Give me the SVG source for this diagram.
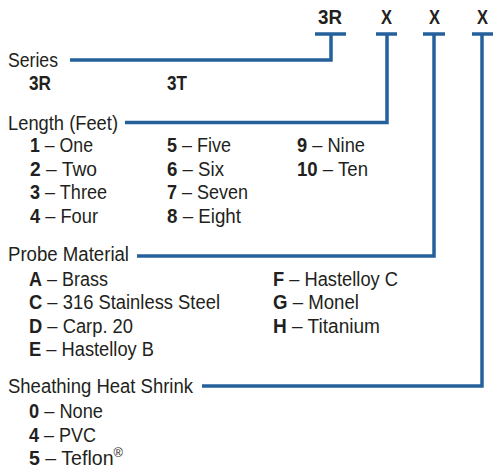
<svg xmlns="http://www.w3.org/2000/svg" width="493" height="471" viewBox="0 0 493 471">
<style>
text{font-family:"Liberation Sans",Arial,sans-serif;font-size:20px;fill:#231f20}
.b{font-weight:bold}
.c{fill:none;stroke:#24609a;stroke-width:3.5;stroke-linecap:butt;stroke-linejoin:miter}
</style>
<rect width="493" height="471" fill="#fff"/>
<g id="connectors">
<path class="c" d="M315 34H346M331 34V60H70"/>
<path class="c" d="M376 34H397M387 34V122.5H125"/>
<path class="c" d="M423 34H445M434 34V256H137"/>
<path class="c" d="M472 34H493M482 34V386H202"/>
</g>
<g id="header">
<text class="b" x="318" y="24" textLength="24" lengthAdjust="spacingAndGlyphs">3R</text>
<text class="b" x="381" y="24" textLength="11" lengthAdjust="spacingAndGlyphs">X</text>
<text class="b" x="429" y="24" textLength="11" lengthAdjust="spacingAndGlyphs">X</text>
<text class="b" x="477" y="24" textLength="11" lengthAdjust="spacingAndGlyphs">X</text>
</g>
<g id="series">
<text x="8" y="67" textLength="50" lengthAdjust="spacingAndGlyphs">Series</text>
<text class="b" x="29" y="90" textLength="22" lengthAdjust="spacingAndGlyphs">3R</text>
<text class="b" x="167" y="90" textLength="20" lengthAdjust="spacingAndGlyphs">3T</text>
</g>
<g id="length">
<text x="8" y="129.5" textLength="110" lengthAdjust="spacingAndGlyphs">Length (Feet)</text>
<text x="30" y="152" textLength="63" lengthAdjust="spacingAndGlyphs"><tspan class="b">1</tspan> – One</text>
<text x="30" y="175.5" textLength="67" lengthAdjust="spacingAndGlyphs"><tspan class="b">2</tspan> – Two</text>
<text x="30" y="199" textLength="77" lengthAdjust="spacingAndGlyphs"><tspan class="b">3</tspan> – Three</text>
<text x="30" y="223" textLength="68" lengthAdjust="spacingAndGlyphs"><tspan class="b">4</tspan> – Four</text>
<text x="167" y="152" textLength="64" lengthAdjust="spacingAndGlyphs"><tspan class="b">5</tspan> – Five</text>
<text x="167" y="175.5" textLength="57" lengthAdjust="spacingAndGlyphs"><tspan class="b">6</tspan> – Six</text>
<text x="167" y="199" textLength="81" lengthAdjust="spacingAndGlyphs"><tspan class="b">7</tspan> – Seven</text>
<text x="167" y="223" textLength="74" lengthAdjust="spacingAndGlyphs"><tspan class="b">8</tspan> – Eight</text>
<text x="297" y="152" textLength="68" lengthAdjust="spacingAndGlyphs"><tspan class="b">9</tspan> – Nine</text>
<text x="297" y="175.5" textLength="71" lengthAdjust="spacingAndGlyphs"><tspan class="b">10</tspan> – Ten</text>
</g>
<g id="probe-material">
<text x="8" y="261" textLength="121" lengthAdjust="spacingAndGlyphs">Probe Material</text>
<text x="29" y="285.5" textLength="79" lengthAdjust="spacingAndGlyphs"><tspan class="b">A</tspan> – Brass</text>
<text x="29" y="309" textLength="191" lengthAdjust="spacingAndGlyphs"><tspan class="b">C</tspan> – 316 Stainless Steel</text>
<text x="29" y="332.5" textLength="104" lengthAdjust="spacingAndGlyphs"><tspan class="b">D</tspan> – Carp. 20</text>
<text x="29" y="356" textLength="125" lengthAdjust="spacingAndGlyphs"><tspan class="b">E</tspan> – Hastelloy B</text>
<text x="273" y="285.5" textLength="125" lengthAdjust="spacingAndGlyphs"><tspan class="b">F</tspan> – Hastelloy C</text>
<text x="273" y="309" textLength="86" lengthAdjust="spacingAndGlyphs"><tspan class="b">G</tspan> – Monel</text>
<text x="273" y="332.5" textLength="107" lengthAdjust="spacingAndGlyphs"><tspan class="b">H</tspan> – Titanium</text>
</g>
<g id="sheathing">
<text x="8" y="393" textLength="185" lengthAdjust="spacingAndGlyphs">Sheathing Heat Shrink</text>
<text x="29" y="418" textLength="74" lengthAdjust="spacingAndGlyphs"><tspan class="b">0</tspan> – None</text>
<text x="29" y="441.5" textLength="67" lengthAdjust="spacingAndGlyphs"><tspan class="b">4</tspan> – PVC</text>
<text x="29" y="465" textLength="94" lengthAdjust="spacingAndGlyphs"><tspan class="b">5</tspan> – Teflon<tspan font-size="13" dy="-8">®</tspan></text>
</g>
</svg>
